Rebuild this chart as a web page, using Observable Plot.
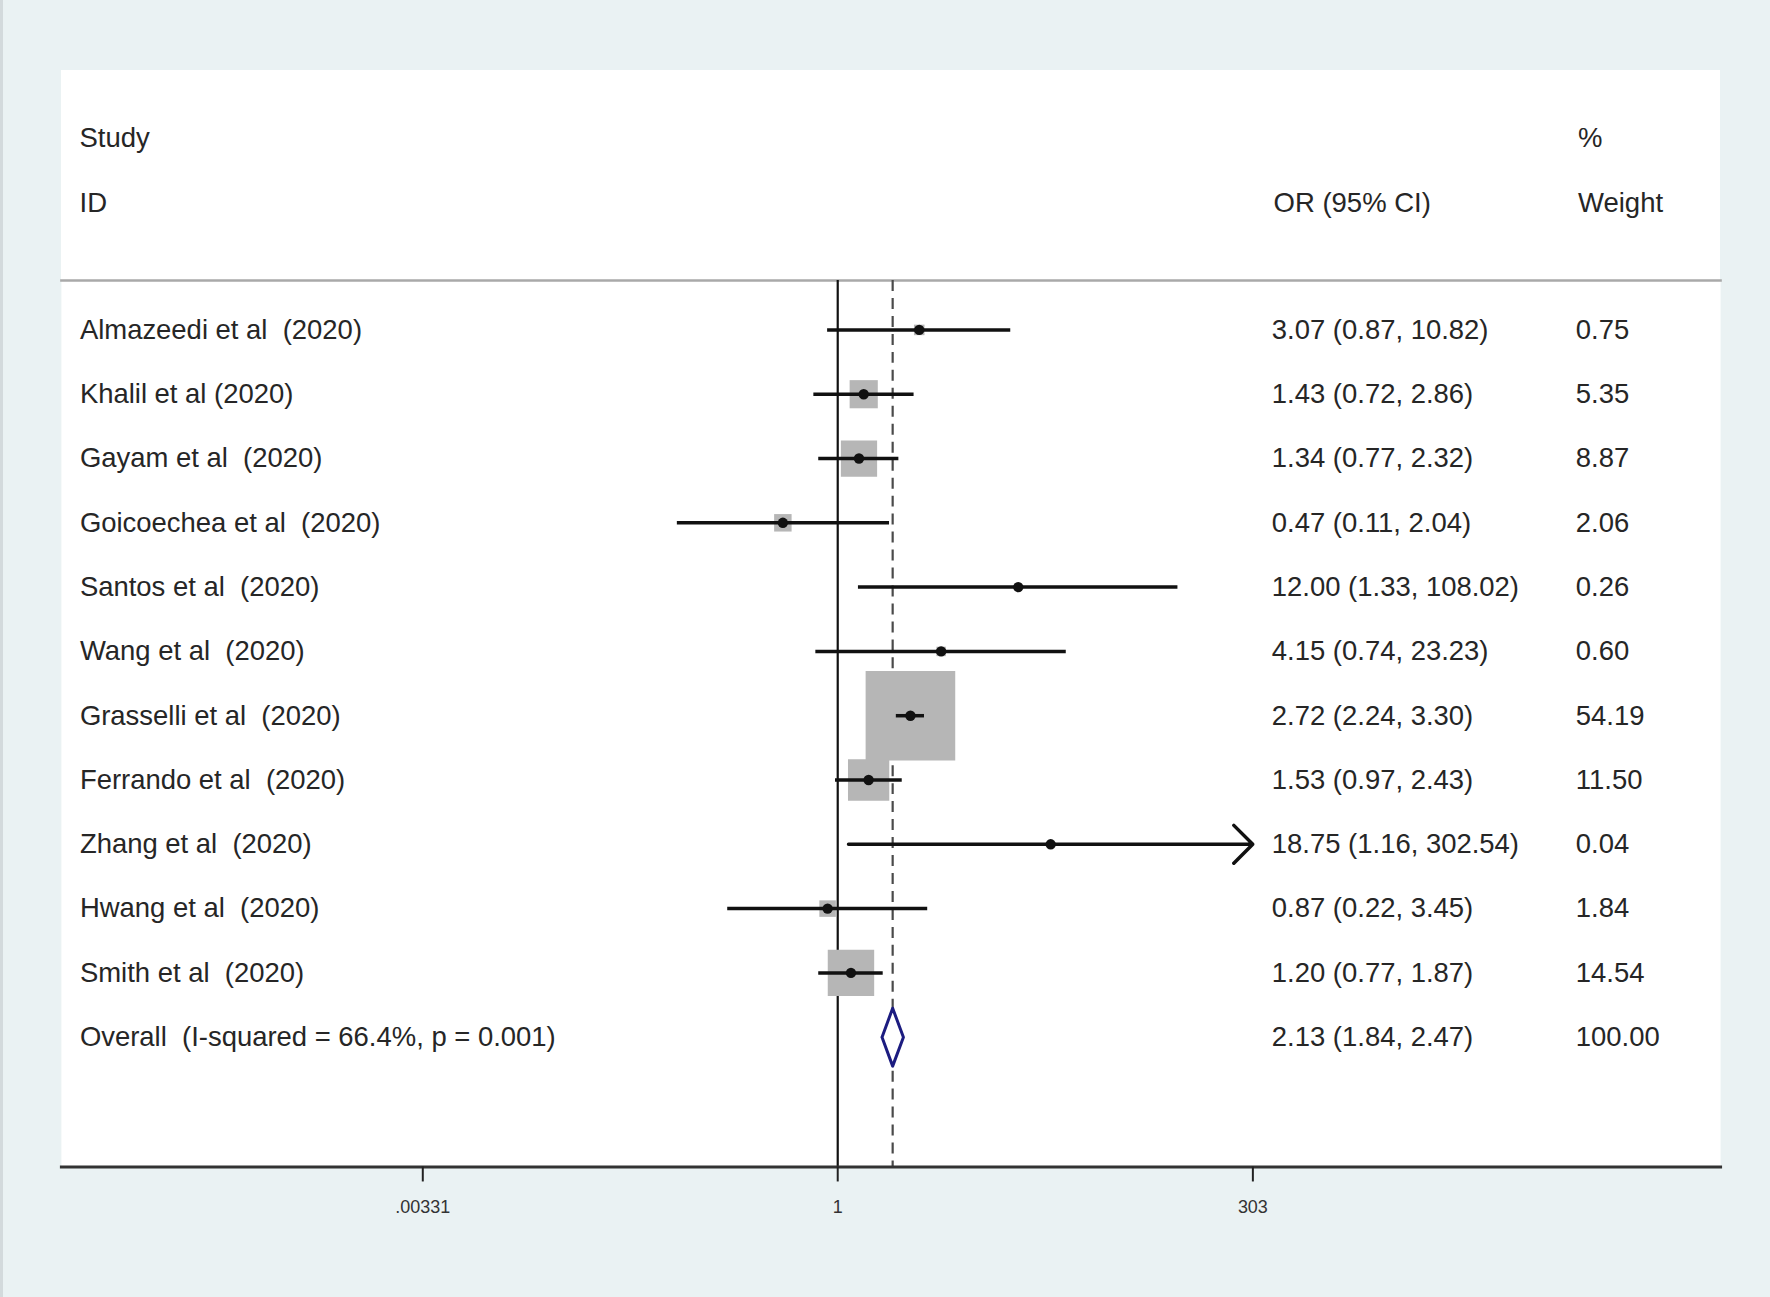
<!DOCTYPE html>
<html><head><meta charset="utf-8">
<script src="https://cdn.jsdelivr.net/npm/d3@7"></script>
<script src="https://cdn.jsdelivr.net/npm/@observablehq/plot@0.6"></script>
<style>
html,body{margin:0;padding:0;background:#eaf2f3;}
#page{position:relative;width:1770px;height:1297px;overflow:hidden;font-family:"Liberation Sans",Arial,sans-serif;background:#eaf2f3;border-left:3px solid #d3dadc;box-sizing:border-box;}
#header{position:absolute;left:58px;top:70px;width:1659px;height:210px;background:#fff;color:#262626;font-size:27.5px;}
#header span{position:absolute;line-height:27px;white-space:pre;}
#chart{position:absolute;left:-3px;top:280px;}
#chart svg text{white-space:pre;}
</style></head>
<body><div id="page"><div id="header"></div><div id="chart"></div></div>
<script>
// ---- data ----
const studies = ["Almazeedi et al  (2020)", "Khalil et al (2020)", "Gayam et al  (2020)", "Goicoechea et al  (2020)", "Santos et al  (2020)", "Wang et al  (2020)", "Grasselli et al  (2020)", "Ferrando et al  (2020)", "Zhang et al  (2020)", "Hwang et al  (2020)", "Smith et al  (2020)"];
const orValues = [3.07, 1.43, 1.34, 0.47, 12.00, 4.15, 2.72, 1.53, 18.75, 0.87, 1.20];
const ciLow    = [0.87, 0.72, 0.77, 0.11, 1.33, 0.74, 2.24, 0.97, 1.16, 0.22, 0.77];
const ciHigh   = [10.82, 2.86, 2.32, 2.04, 108.02, 23.23, 3.30, 2.43, 302.54, 3.45, 1.87];
const weights  = [0.75, 5.35, 8.87, 2.06, 0.26, 0.60, 54.19, 11.50, 0.04, 1.84, 14.54];
const arrowRight = [false, false, false, false, false, false, false, false, true, false, false];
const overallLabel = "Overall  (I-squared = 66.4%, p = 0.001)";
const overallOR = 2.13, overallLow = 1.84, overallHigh = 2.47, overallWeight = 100.00;
const xTicks = [0.00331, 1, 303];
const xTickLabels = [".00331", "1", "303"];
const headerLeft = ["Study", "ID"];
const headerCI = "OR (95% CI)";
const headerWeight = ["%", "Weight"];

// ---- header (HTML above the SVG) ----
const header = document.getElementById("header");
function addSpan(text, left, top) {
  const s = document.createElement("span");
  s.textContent = text; s.style.left = left + "px"; s.style.top = top + "px";
  header.appendChild(s);
}
addSpan(headerLeft[0], 18.5, 54);
addSpan(headerLeft[1], 18.5, 119);
addSpan(headerCI, 1212.5, 119);
addSpan(headerWeight[0], 1517, 54);
addSpan(headerWeight[1], 1517, 119);

// ---- chart ----
const rows = studies.map((s, i) => ({label: s, or: orValues[i], lo: ciLow[i], hi: ciHigh[i], w: weights[i], i, arrow: arrowRight[i]}));
const overall = {label: overallLabel, or: overallOR, lo: overallLow, hi: overallHigh, w: overallWeight, i: studies.length};
const all = [...rows, overall];
const halfH = 0.45;
const diamond = [
  {x: overall.lo, y: overall.i},
  {x: overall.or, y: overall.i - halfH},
  {x: overall.hi, y: overall.i},
  {x: overall.or, y: overall.i + halfH},
  {x: overall.lo, y: overall.i}
];
const fmt = d3.format(".2f");
const textColor = "#262626";
const tickLabel = d => xTickLabels[d3.minIndex(xTicks, t => Math.abs(Math.log(t / d)))];

const chart = Plot.plot({
  width: 1773, height: 1017,
  marginLeft: 61, marginRight: 50, marginTop: 0, marginBottom: 129,
  style: {background: "transparent", fontFamily: "'Liberation Sans', Arial, sans-serif", fontSize: "27.5px", color: textColor, overflow: "visible"},
  x: {type: "log", domain: [xTicks[0], xTicks[2]], range: [423, 1254.5], axis: null},
  y: {domain: [0, studies.length], range: [49.5, 758], axis: null},
  r: {type: "sqrt", domain: [0, 100], range: [0, 68.8]},
  marks: [
    Plot.frame({fill: "white", stroke: null}),
    Plot.frame({anchor: "top", stroke: "#a9a9a9", strokeWidth: 2.5}),
    Plot.ruleX([1], {stroke: "#111", strokeWidth: 2.2}),
    Plot.ruleX([overall.or], {stroke: "#4a4a4a", strokeWidth: 2.2, strokeDasharray: "11,7"}),
    Plot.dot(rows, {x: "or", y: "i", r: "w", symbol: "square", fill: "#b6b6b6"}),
    Plot.ruleY(rows.filter(d => !d.arrow), {y: "i", x1: "lo", x2: "hi", stroke: "#111", strokeWidth: 3.5}),
    Plot.arrow(rows.filter(d => d.arrow), {x1: "lo", x2: "hi", y1: "i", y2: "i", stroke: "#111", strokeWidth: 3.5, headLength: 11.5, headAngle: 90}),
    Plot.dot(rows, {x: "or", y: "i", r: 5.2, fill: "#111"}),
    Plot.line(diamond, {x: "x", y: "y", stroke: "#1c1c80", strokeWidth: 3, fill: "white"}),
    Plot.text(all, {y: "i", text: "label", frameAnchor: "left", dx: 18.5, textAnchor: "start", fill: textColor}),
    Plot.text(all, {y: "i", text: d => `${fmt(d.or)} (${fmt(d.lo)}, ${fmt(d.hi)})`, frameAnchor: "left", dx: 1212.5, textAnchor: "start", fill: textColor}),
    Plot.text(all, {y: "i", text: d => fmt(d.w), frameAnchor: "left", dx: 1517, textAnchor: "start", fill: textColor}),
    Plot.frame({anchor: "bottom", stroke: "#333", strokeWidth: 3}),
    Plot.axisX({anchor: "bottom", ticks: xTicks, tickFormat: () => "", tickSize: 15, stroke: "#222", strokeWidth: 2}),
    Plot.text(xTicks, {x: d => d, text: tickLabel, frameAnchor: "bottom", dy: 46, fontSize: 18, fill: "#333"})
  ]
});
document.getElementById("chart").appendChild(chart);
</script>
</body></html>
